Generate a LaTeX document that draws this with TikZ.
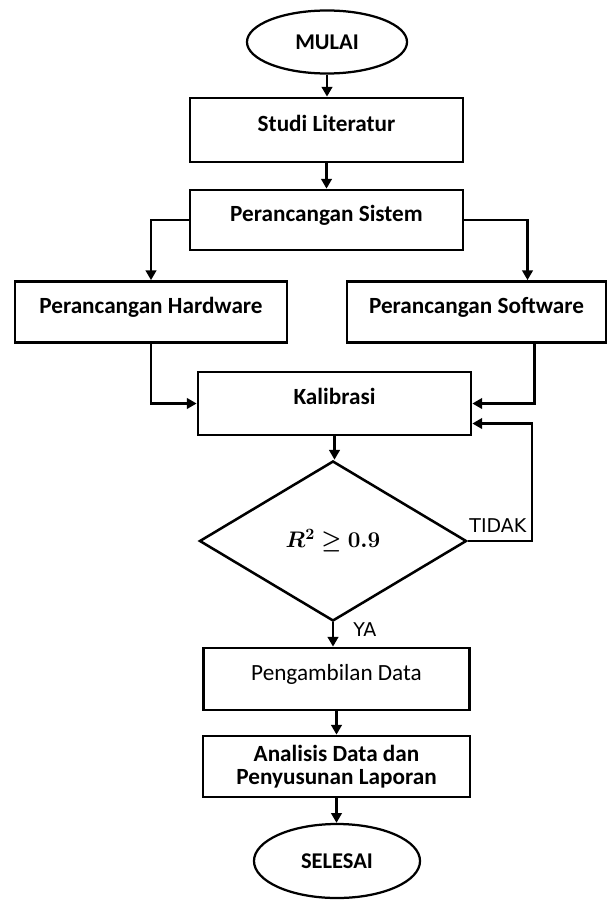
\RequirePackage{fix-cm}
\documentclass[tikz,border=0pt]{standalone}
\usepackage{amsmath,amssymb,bm}
\usepackage{fontspec}
\setmainfont{Carlito}
\newfontfamily\labelfont{DejaVu Sans}
\usepackage{tikz}
\usetikzlibrary{
  arrows.meta,
  positioning,
  shapes.geometric,
  calc
}

\begin{document}
\begin{tikzpicture}[x=0.025cm, y=-0.025cm,
  garis/.style={line width=1.9pt, -{Triangle[width=7.5pt, length=7pt]}},
  kotak/.style={rectangle, draw, line width=1.9pt, font=\fontsize{16.5}{16.5}\selectfont\bfseries},
  kotakatas/.style={kotak, text height=11.5pt, text depth=9.5pt},
  terminal/.style={ellipse, draw, line width=1.6pt, font=\fontsize{16}{18}\selectfont\bfseries},
  keputusan/.style={diamond, draw, line width=1.8pt, minimum width=6.675cm, minimum height=4cm, inner sep=0pt, font=\fontsize{16}{18}\selectfont},
  cabang/.style={font=\labelfont\fontsize{13.5}{16}\selectfont, inner sep=0pt}
]
  \useasboundingbox (0,0) rectangle (608,900);
  % terminal atas
  \node[terminal, minimum width=4cm, minimum height=1.575cm] (mulai) at (327,42) {MULAI};
  % proses
  \node[kotakatas, minimum width=6.825cm, minimum height=1.6cm] (studi) at (326.5,130) {Studi Literatur};
  \node[kotakatas, minimum width=6.825cm, minimum height=1.5cm] (sistem) at (326.5,220) {Perancangan Sistem};
  \node[kotakatas, minimum width=6.8cm, minimum height=1.525cm] (hardware) at (151,312) {Perancangan Hardware};
  \node[kotakatas, minimum width=6.475cm, minimum height=1.525cm] (software) at (476.5,312) {Perancangan Software};
  \node[kotakatas, minimum width=6.825cm, minimum height=1.575cm] (kalibrasi) at (334.5,403.5) {Kalibrasi};
  % keputusan
  \node[keputusan] (cek) at (333,541) {$\bm{R^2 \geq 0.9}$};
  \node[kotakatas, font=\fontsize{16.5}{16.5}\selectfont, minimum width=6.65cm, minimum height=1.55cm] (ambil) at (336.5,679) {Pengambilan Data};
  \node[kotak, align=center, minimum width=6.675cm, minimum height=1.525cm] (analisis) at (336.5,766.5) {Analisis Data dan\\Penyusunan Laporan};
  % terminal bawah
  \node[terminal, minimum width=4.15cm, minimum height=1.85cm] (selesai) at (337,861) {SELESAI};

  \draw[garis] (mulai.south) -- (mulai.south |- studi.north);
  \draw[garis] (studi.south) -- (studi.south |- sistem.north);
  \draw[garis] (sistem.west) -| (hardware.north);
  \draw[garis] (sistem.east) -| ([xshift=1.275cm]software.north);
  \draw[garis] (hardware.south) |- (kalibrasi.west);
  \draw[garis] ([xshift=1.45cm]software.south) |- (kalibrasi.east);
  \draw[garis] (kalibrasi.south) -- (kalibrasi.south |- cek.north);
  \coordinate (balik) at (532,541);
  \draw[garis] (cek.east) -- (balik) |- ([yshift=-0.5cm]kalibrasi.east);
  \draw[garis] (cek.south) -- (cek.south |- ambil.north);
  \draw[garis] (ambil.south) -- (ambil.south |- analisis.north);
  \draw[garis] (analisis.south) -- (analisis.south |- selesai.north);

  \node[cabang, anchor=base west] (tidak) at ([xshift=1pt, yshift=6pt]cek.east) {TIDAK};
  \node[cabang, anchor=base west] (ya) at ([xshift=0.5cm, yshift=-0.35cm]cek.south) {YA};
\end{tikzpicture}
\end{document}
